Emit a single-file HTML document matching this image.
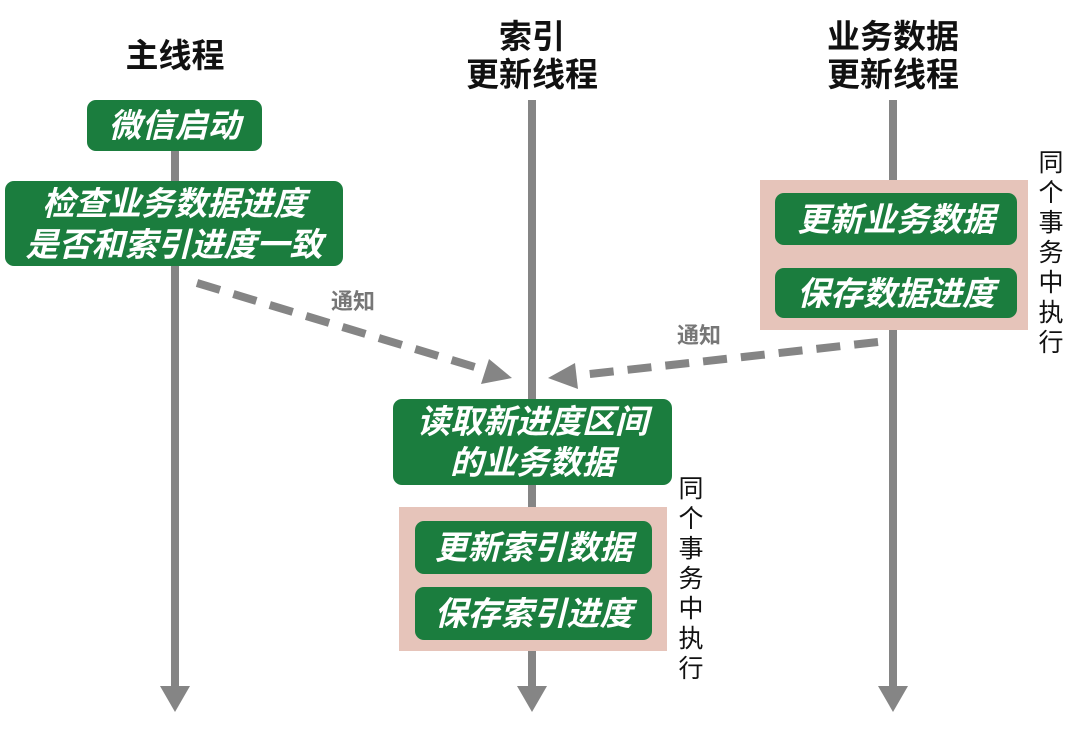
<!DOCTYPE html>
<html><head><meta charset="utf-8"><style>
body{margin:0;width:1080px;height:741px;background:#fff;position:relative;overflow:hidden;font-family:"Liberation Sans","Noto Sans CJK SC",sans-serif;}
.a{position:absolute}
.h{position:absolute;font-size:33px;font-weight:bold;text-align:center;line-height:38px;color:#111;width:240px}
.g{position:absolute;background:#1b7d3e;color:#fff;border-radius:9px;font-weight:bold;font-size:33px;display:flex;align-items:center;justify-content:center;text-align:center;line-height:41px;font-style:italic}
.p{position:absolute;background:#e6c4ba}
.v{position:absolute;font-size:25px;line-height:30px;width:30px;text-align:center;color:#111}
.l{position:absolute;font-size:22px;color:#777;font-weight:bold}
</style></head><body>
<svg class="a" style="left:0;top:0" width="1080" height="741">
<g fill="#858585">
<rect x="171" y="100" width="8" height="590"/><polygon points="160,686 190,686 175,712"/>
<rect x="528" y="100" width="8" height="590"/><polygon points="517,686 547,686 532,712"/>
<rect x="889" y="100" width="8" height="590"/><polygon points="878,686 908,686 893,712"/>
</g>
</svg>
<div class="h" style="left:55px;top:37px">主线程</div>
<div class="h" style="left:412px;top:18px">索引<br>更新线程</div>
<div class="h" style="left:773px;top:18px">业务数据<br>更新线程</div>
<div class="g" style="left:87px;top:100px;width:175px;height:51px">微信启动</div>
<div class="g" style="left:5px;top:181px;width:338px;height:85px">检查业务数据进度<br>是否和索引进度一致</div>
<div class="p" style="left:760px;top:180px;width:268px;height:150px"></div>
<div class="g" style="left:775px;top:193px;width:242px;height:52px">更新业务数据</div>
<div class="g" style="left:775px;top:268px;width:242px;height:50px">保存数据进度</div>
<div class="v" style="left:1036px;top:148px">同<br>个<br>事<br>务<br>中<br>执<br>行</div>
<svg class="a" style="left:0;top:0" width="1080" height="741">
<g stroke="#858585" stroke-width="8" stroke-dasharray="24,14" fill="none">
<line x1="197" y1="283" x2="488" y2="371"/>
<line x1="878" y1="342" x2="572" y2="376"/>
</g>
<g fill="#858585">
<polygon points="512,378 481,384 489,359"/>
<polygon points="548,378 575,363 578,389"/>
</g>
</svg>
<div class="l" style="left:331px;top:284px">通知</div>
<div class="l" style="left:677px;top:318px">通知</div>
<div class="g" style="left:393px;top:399px;width:279px;height:86px">读取新进度区间<br>的业务数据</div>
<div class="p" style="left:399px;top:507px;width:268px;height:144px"></div>
<div class="g" style="left:415px;top:521px;width:237px;height:53px">更新索引数据</div>
<div class="g" style="left:415px;top:587px;width:237px;height:53px">保存索引进度</div>
<div class="v" style="left:676px;top:474px">同<br>个<br>事<br>务<br>中<br>执<br>行</div>
</body></html>
